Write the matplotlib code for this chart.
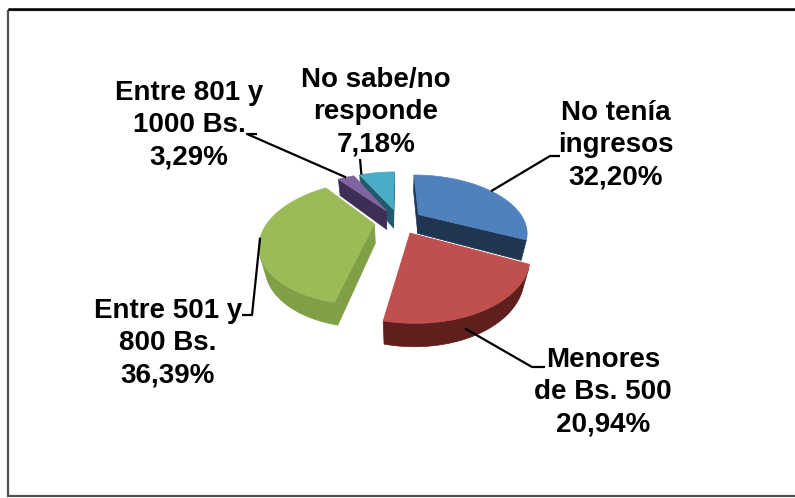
import numpy as np
import matplotlib
matplotlib.use("Agg")
import matplotlib.pyplot as plt
from matplotlib.patches import Polygon, Rectangle

# ---------------- data ----------------
categories = ["No tenía\ningresos", "Menores\nde Bs. 500", "Entre 501 y\n800 Bs.",
              "Entre 801 y\n1000 Bs.", "No sabe/no\nresponde"]
values = [32.20, 20.94, 36.39, 3.29, 7.18]

# ---------------- style ----------------
top_colors = ["#4F81BD", "#C0504D", "#9BBB59", "#8064A2", "#4BACC6"]
side_colors = ["#1F3552", "#5E1F1D", "#80A046", "#3D2E55", "#215A6B"]
label_pos = [(616, 145), (603, 392), (168, 343), (189, 125), (376, 112)]
# elbow points of leader lines (label side), pixel coords
leader_ends = [[(560, 156), (550, 156)], [(545, 367), (532, 367)],
               [(242, 315), (252, 315)], [(257, 134), (247, 134)], [(360, 159)]]
anchor_depth = [0.0, 0.5, 0.0, 0.0, 0.0]
anchor_frac = [0.5, 0.4, 0.5, 0.5, 0.95]

CX, CY, R = 398.5, 221.0, 106.0
TILT = np.radians(31)
DIST = 2.9
DEPTH = 0.22
EXPLODE = 0.23

FONT = ["Liberation Sans Narrow", "Liberation Sans", "DejaVu Sans"]

fig = plt.figure(figsize=(7.95, 4.98), dpi=100)
ax = fig.add_axes([0, 0, 1, 1])
ax.set_xlim(0, 795)
ax.set_ylim(498, 0)
ax.axis("off")

# frame
ax.add_patch(Rectangle((8, 9.5), 800, 486.5, fill=False, edgecolor="#505050", lw=1.6))
ax.plot([8, 795], [9.2, 9.2], color="black", lw=1.8, solid_capstyle="butt")


def project(x, y, z):
    st, ct = np.sin(TILT), np.cos(TILT)
    yc = y * st + z * ct
    d = y * ct - z * st
    s = DIST / (DIST + d)
    return CX + R * x * s, CY - R * yc * s


def proj_poly(pts):
    return np.array([project(*p) for p in pts])


def visible(poly2d):
    x = poly2d[:, 0]
    y = -poly2d[:, 1]
    area = 0.5 * np.sum(x * np.roll(y, -1) - np.roll(x, -1) * y)
    return area > 0


total = float(sum(values))
slices = []
start = 90.0
for i, v in enumerate(values):
    sweep = v / total * 360.0
    a2 = start
    a1 = start - sweep
    start = a1
    mid = np.radians((a1 + a2) / 2)
    ox, oy = EXPLODE * np.cos(mid), EXPLODE * np.sin(mid)
    depth = (oy + 0.5 * np.sin(mid)) * np.cos(TILT)
    slices.append((depth, i, np.radians(a1), np.radians(a2), ox, oy, mid))

h = DEPTH
for depth, i, a1, a2, ox, oy, mid in sorted(slices, key=lambda s: -s[0]):
    n = max(3, int(np.degrees(a2 - a1) / 1.5))
    t = np.linspace(a1, a2, n)
    sc = side_colors[i]
    # radial faces
    Cb, Ct = (ox, oy, -h), (ox, oy, 0)
    P1b, P1t = (ox + np.cos(a1), oy + np.sin(a1), -h), (ox + np.cos(a1), oy + np.sin(a1), 0)
    P2b, P2t = (ox + np.cos(a2), oy + np.sin(a2), -h), (ox + np.cos(a2), oy + np.sin(a2), 0)
    for face in ([Cb, P1b, P1t, Ct], [P2b, Cb, Ct, P2t]):
        p = proj_poly(face)
        if visible(p):
            ax.add_patch(Polygon(p, closed=True, facecolor=sc, edgecolor=sc, lw=0.5))
    # outer wall: merge visible strips
    vis = []
    for k in range(n - 1):
        q = proj_poly([(ox + np.cos(t[k]), oy + np.sin(t[k]), -h),
                       (ox + np.cos(t[k + 1]), oy + np.sin(t[k + 1]), -h),
                       (ox + np.cos(t[k + 1]), oy + np.sin(t[k + 1]), 0),
                       (ox + np.cos(t[k]), oy + np.sin(t[k]), 0)])
        vis.append(visible(q))
    k = 0
    while k < n - 1:
        if vis[k]:
            j = k
            while j < n - 1 and vis[j]:
                j += 1
            tt = t[k:j + 1]
            top = [(ox + np.cos(a), oy + np.sin(a), 0) for a in tt]
            bot = [(ox + np.cos(a), oy + np.sin(a), -h) for a in tt[::-1]]
            p = proj_poly(top + bot)
            ax.add_patch(Polygon(p, closed=True, facecolor=sc, edgecolor=sc, lw=0.5))
            k = j
        else:
            k += 1
    # top face
    pts = [(ox, oy, 0)] + [(ox + np.cos(a), oy + np.sin(a), 0) for a in t]
    ax.add_patch(Polygon(proj_poly(pts), closed=True, facecolor=top_colors[i],
                         edgecolor=top_colors[i], lw=0.5))

# labels and leader lines
for depth, i, a1, a2, ox, oy, mid in slices:
    ang = a1 + anchor_frac[i] * (a2 - a1)
    ax_, ay_ = project(ox + np.cos(ang), oy + np.sin(ang), -anchor_depth[i] * h)
    pts = [(ax_, ay_)] + leader_ends[i][::-1]
    xs = [p[0] for p in pts]
    ys = [p[1] for p in pts]
    ax.plot(xs, ys, color="black", lw=1.6, solid_capstyle="butt")
    pct = f"{values[i]:.2f}".replace(".", ",") + "%"
    ax.text(label_pos[i][0], label_pos[i][1], categories[i] + "\n" + pct,
            ha="center", va="center", fontsize=20, fontweight="bold",
            family=FONT, linespacing=1.32, color="black")

fig.savefig("out.png", dpi=100)
